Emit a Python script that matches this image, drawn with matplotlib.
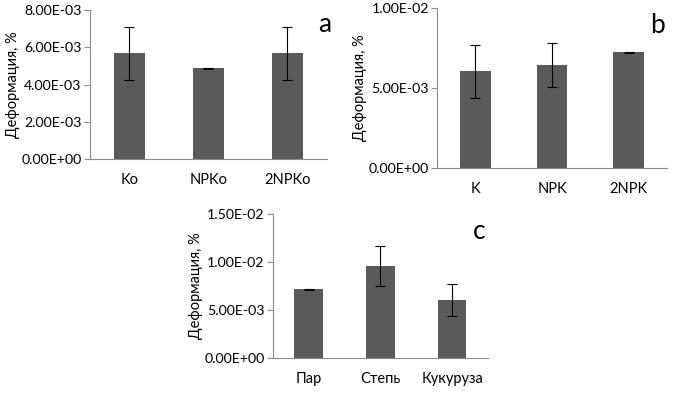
import numpy as np
import matplotlib.pyplot as plt
from matplotlib.ticker import FuncFormatter

plt.rcParams['font.family'] = ['Lato', 'DejaVu Sans']

# данные
cats_a = ['Ko', 'NPKo', '2NPKo']
vals_a = [0.00567, 0.00487, 0.00567]
err_a = [0.0014, 0.00003, 0.0014]

cats_b = ['K', 'NPK', '2NPK']
vals_b = [0.00606, 0.00642, 0.00723]
err_b = [0.00166, 0.00138, 0.00003]

cats_c = ['Пар', 'Степь', 'Кукуруза']
vals_c = [0.00714, 0.00957, 0.00602]
err_c = [0.00003, 0.00205, 0.00170]

bar_color = '#5a5a5a'
axis_color = '#8c8c8c'


def sci_fmt(v, pos):
    return '%.2E' % v


def panel(rect, cats, vals, errs, ymax, step, letter, lpos):
    ax = fig.add_axes(rect)
    x = np.arange(len(cats))
    ax.bar(x, vals, width=0.4, color=bar_color, zorder=2)
    ax.errorbar(x, vals, yerr=errs, fmt='none', ecolor='black',
                elinewidth=0.8, capsize=3.5, capthick=0.8, zorder=3)
    ax.set_xlim(-0.5, len(cats) - 0.5)
    ax.set_ylim(0, ymax)
    ax.set_yticks(np.arange(0, ymax + step / 2, step))
    ax.yaxis.set_major_formatter(FuncFormatter(sci_fmt))
    ax.set_xticks(x)
    ax.set_xticklabels(cats)
    for s in ['top', 'right']:
        ax.spines[s].set_visible(False)
    for s in ['left', 'bottom']:
        ax.spines[s].set_color(axis_color)
        ax.spines[s].set_linewidth(0.8)
    ax.tick_params(axis='y', length=4, color=axis_color, labelsize=10.2, pad=2)
    ax.tick_params(axis='x', length=0, labelsize=10.5, pad=10)
    ax.set_ylabel('Деформация, %', fontsize=10.5, labelpad=1)
    ax.text(lpos[0], lpos[1], letter, transform=ax.transAxes,
            fontsize=19, ha='center', va='center')
    return ax


fig = plt.figure(figsize=(6.75, 3.94), dpi=100)

panel([0.1333, 0.5964, 0.351, 0.378], cats_a, vals_a, err_a,
      0.008, 0.002, 'a', (0.99, 0.90))
panel([0.6474, 0.5736, 0.341, 0.406], cats_b, vals_b, err_b,
      0.01, 0.005, 'b', (0.96, 0.89))
panel([0.4044, 0.0921, 0.3185, 0.3647], cats_c, vals_c, err_c,
      0.015, 0.005, 'c', (0.96, 0.88))

plt.savefig('out.png', dpi=100)
